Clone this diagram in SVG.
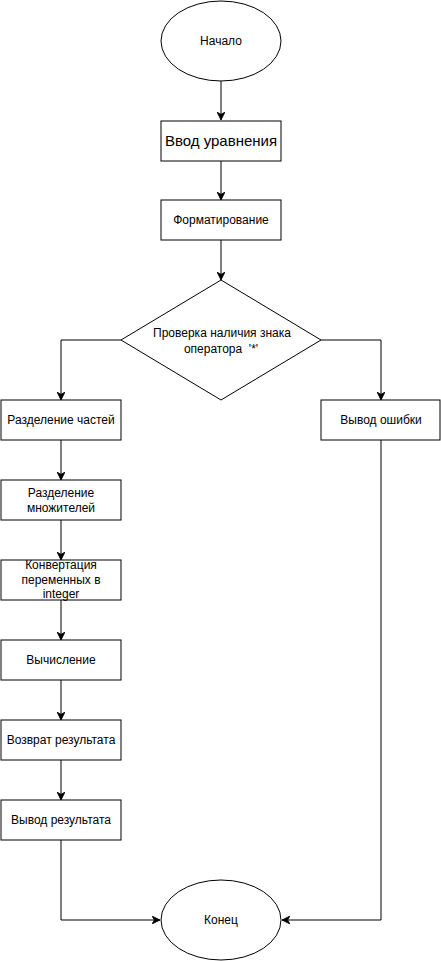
<svg xmlns="http://www.w3.org/2000/svg" width="441" height="961" viewBox="0 0 441 961">
<style>
.s{fill:#fff;stroke:#000;stroke-width:1}
.t{font-family:"Liberation Sans",Arial,sans-serif;font-size:12px;fill:#000;text-anchor:middle;white-space:pre}
.big{font-size:15px}
.c{fill:none;stroke:#000;stroke-width:1}
</style>
<defs>
<marker id="arr" viewBox="0 0 10 10" refX="10" refY="5" markerWidth="8" markerHeight="8" markerUnits="userSpaceOnUse" orient="auto">
<path d="M0,0 L10,5 L0,10 L3,5 Z" fill="#000" stroke="#000" stroke-width="1"/>
</marker>
</defs>
<rect width="441" height="961" fill="#fff"/>
<g id="connectors">
<path class="c" d="M221,81 V120" marker-end="url(#arr)"/>
<path class="c" d="M221,161 V200" marker-end="url(#arr)"/>
<path class="c" d="M221,240 V280" marker-end="url(#arr)"/>
<path class="c" d="M121,340 H61 V400" marker-end="url(#arr)"/>
<path class="c" d="M321,340 H381 V400" marker-end="url(#arr)"/>
<path class="c" d="M61,440 V480" marker-end="url(#arr)"/>
<path class="c" d="M61,520 V560" marker-end="url(#arr)"/>
<path class="c" d="M61,600 V640" marker-end="url(#arr)"/>
<path class="c" d="M61,680 V720" marker-end="url(#arr)"/>
<path class="c" d="M61,760 V800" marker-end="url(#arr)"/>
<path class="c" d="M61,840 V920 H160" marker-end="url(#arr)"/>
<path class="c" d="M381,440 V920 H282" marker-end="url(#arr)"/>
</g>
<g id="start">
<ellipse class="s" cx="221" cy="41" rx="60" ry="40"/>
<text class="t" x="221" y="45">Начало</text>
</g>
<g id="input">
<rect class="s" x="161" y="121" width="120" height="40"/>
<text class="t big" x="221" y="146">Ввод уравнения</text>
</g>
<g id="format">
<rect class="s" x="161" y="200" width="120" height="40"/>
<text class="t" x="221" y="224">Форматирование</text>
</g>
<g id="check">
<polygon class="s" points="221,280 321,340 221,400 121,340"/>
<text class="t" x="222" y="337">Проверка наличия знака</text>
<text class="t" x="221" y="353">оператора  '*'</text>
</g>
<g id="split">
<rect class="s" x="1" y="400" width="120" height="40"/>
<text class="t" x="61" y="424">Разделение частей</text>
</g>
<g id="error">
<rect class="s" x="321" y="400" width="119" height="40"/>
<text class="t" x="381" y="424">Вывод ошибки</text>
</g>
<g id="factors">
<rect class="s" x="1" y="480" width="120" height="40"/>
<text class="t" x="61" y="497">Разделение</text>
<text class="t" x="61" y="512">множителей</text>
</g>
<g id="convert">
<rect class="s" x="1" y="560" width="120" height="40"/>
<text class="t" x="61" y="569">Конвертация</text>
<text class="t" x="61" y="584">переменных в</text>
<text class="t" x="61" y="598">integer</text>
</g>
<g id="calc">
<rect class="s" x="1" y="640" width="120" height="40"/>
<text class="t" x="61" y="664">Вычисление</text>
</g>
<g id="return">
<rect class="s" x="1" y="720" width="120" height="40"/>
<text class="t" x="61" y="744">Возврат результата</text>
</g>
<g id="output">
<rect class="s" x="1" y="800" width="120" height="40"/>
<text class="t" x="61" y="824">Вывод результата</text>
</g>
<g id="end">
<ellipse class="s" cx="221" cy="920" rx="60" ry="40"/>
<text class="t" x="221" y="924">Конец</text>
</g>
</svg>
